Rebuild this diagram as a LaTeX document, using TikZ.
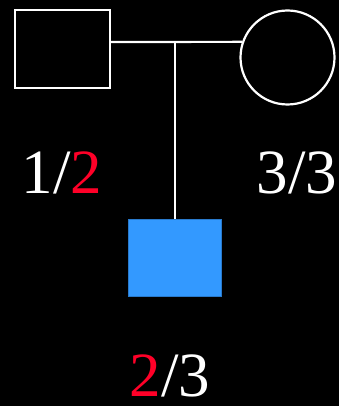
\documentclass[tikz,border=0pt]{standalone}
\usepackage{fontspec}
\setmainfont{Liberation Serif}
\usetikzlibrary{positioning}
\definecolor{allelered}{RGB}{255,0,40}
\definecolor{affected}{RGB}{51,153,255}

\begin{document}
\begin{tikzpicture}[x=1pt,y=-1pt,
	male/.style={rectangle, draw=white, line width=2.2pt, minimum width=95pt, minimum height=78pt},
	female/.style={circle, draw=white, line width=2.2pt, minimum size=94pt},
	sick/.style={rectangle, fill=affected, draw=affected!80!black, line width=0.6pt, minimum width=93pt, minimum height=77pt},
	geno/.style={text=white, font=\fontsize{63}{63}\selectfont, anchor=base, inner sep=0pt, text depth=0pt}]
		
		\fill[black] (0,0) rectangle (339,406);
		\useasboundingbox (0,0) rectangle (339,406);
		
		\node[male] (father) at (62.5,49) {};
		\node[female] (mother) at (287.5,57.5) {};
		\coordinate (mate) at (175,42);
		\node[sick] (son) at (175,257.5) {};
		
		\node[geno] (fg) at (62,193) {1/{\color{allelered}2}};
		\node[geno] (mg) at (297,193) {3/3};
		\node[geno] (sg) at (170,396) {{\color{allelered}2}/3};
		
		\draw[white, line width=2.2pt] (father.east |- mate) -- (mother.161);
		\draw[white, line width=2.2pt] (mate) -- (son.north);
		
	\end{tikzpicture}
\end{document}
